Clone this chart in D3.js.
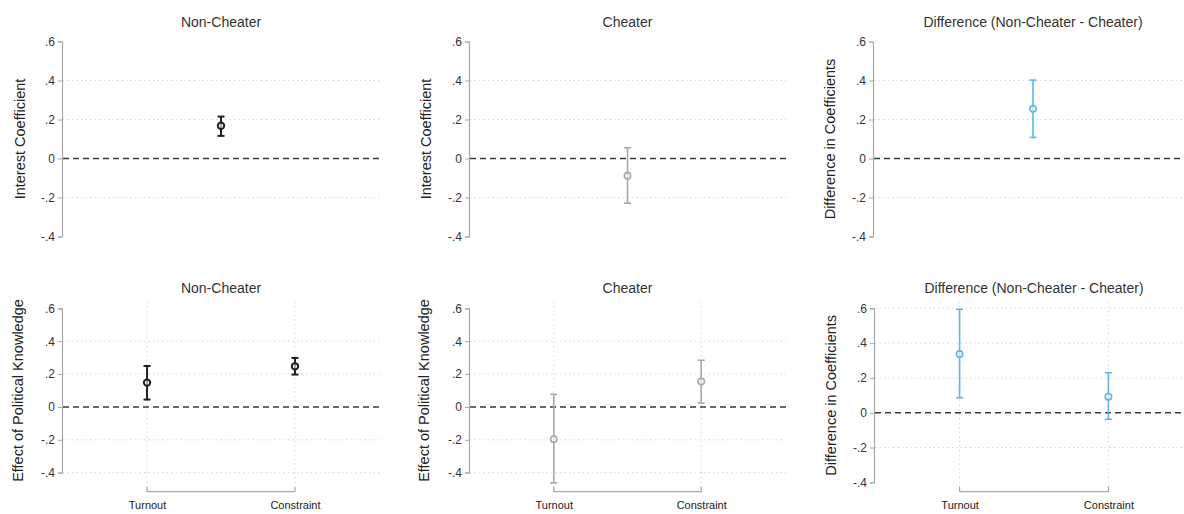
<!DOCTYPE html>
<html>
<head>
<meta charset="utf-8">
<script src="https://cdn.jsdelivr.net/npm/d3@7"></script>
<style>
  body { margin: 0; background: #fff; }
  svg { display: block; font-family: "Liberation Sans", Arial, sans-serif; }
</style>
</head>
<body>
<svg id="chart" width="1184" height="514"></svg>
<script>
// Coefficient estimates with 95% confidence intervals
const yTicks = [0.6, 0.4, 0.2, 0, -0.2, -0.4];
const outcomes = ["Turnout", "Constraint"];

// Row 1: interest coefficient
const interestNonCheater = [{ est: 0.168, lo: 0.116, hi: 0.215 }];
const interestCheater    = [{ est: -0.089, lo: -0.229, hi: 0.055 }];
const interestDiff       = [{ est: 0.255, lo: 0.108, hi: 0.402 }];

// Row 2: effect of political knowledge by outcome
const knowNonCheater = [
  { cat: "Turnout", est: 0.148, lo: 0.045, hi: 0.249 },
  { cat: "Constraint", est: 0.247, lo: 0.197, hi: 0.298 }
];
const knowCheater = [
  { cat: "Turnout", est: -0.196, lo: -0.462, hi: 0.077 },
  { cat: "Constraint", est: 0.154, lo: 0.024, hi: 0.284 }
];
const knowDiff = [
  { cat: "Turnout", est: 0.337, lo: 0.086, hi: 0.594 },
  { cat: "Constraint", est: 0.092, lo: -0.038, hi: 0.230 }
];

const colors = { non: "#1f1f1f", cheat: "#a8a8a8", diff: "#5db6e6" };

const panels = [
  { title: "Non-Cheater", ytitle: "Interest Coefficient", data: interestNonCheater, color: colors.non,
    ax: 62, right: 380, top: 41.5, bottom: 236.5, ytx: 20, grid: [0.4, 0.2, -0.2], cats: false, sw: 2 },
  { title: "Cheater", ytitle: "Interest Coefficient", data: interestCheater, color: colors.cheat,
    ax: 469, right: 786, top: 41.5, bottom: 236.5, ytx: 426, grid: [0.4, 0.2, -0.2], cats: false, sw: 1.6 },
  { title: "Difference (Non-Cheater - Cheater)", ytitle: "Difference in Coefficients", data: interestDiff, color: colors.diff,
    ax: 873, right: 1193, top: 41.5, bottom: 236.5, ytx: 830, grid: [0.4, 0.2, -0.2], cats: false, sw: 1.6 },
  { title: "Non-Cheater", ytitle: "Effect of Political Knowledge", data: knowNonCheater, color: colors.non,
    ax: 62, right: 380, top: 308.3, bottom: 472.7, ytx: 18, grid: [0.4, 0.2, -0.2, -0.4], cats: true, sw: 2 },
  { title: "Cheater", ytitle: "Effect of Political Knowledge", data: knowCheater, color: colors.cheat,
    ax: 469, right: 786, top: 308.3, bottom: 472.7, ytx: 424, grid: [0.4, 0.2, -0.2, -0.4], cats: true, sw: 1.6 },
  { title: "Difference (Non-Cheater - Cheater)", ytitle: "Difference in Coefficients", data: knowDiff, color: colors.diff,
    ax: 874, right: 1194, top: 308.3, bottom: 482.3, ytx: 831, grid: [0.6, 0.4, 0.2, -0.2], cats: true, sw: 1.6 }
];

const svg = d3.select("#chart");
const fmt = v => v === 0 ? "0" : (v < 0 ? "-" : "") + String(Math.abs(v).toFixed(1)).replace(/^0/, "");

panels.forEach(p => {
  const g = svg.append("g");
  const y = d3.scaleLinear().domain([-0.4, 0.6]).range([p.bottom, p.top]);
  const x = p.cats
    ? d3.scaleLinear().domain([0.425, 2.575]).range([p.ax, p.right])
    : d3.scaleLinear().domain([0, 2]).range([p.ax, p.right]);
  const xOf = d => p.cats ? x(outcomes.indexOf(d.cat) + 1) : x(1);

  // Title
  g.append("text")
    .attr("x", (p.ax + p.right) / 2)
    .attr("y", p.top - 15)
    .attr("text-anchor", "middle")
    .attr("font-size", 14)
    .attr("fill", "#333")
    .text(p.title);

  // Horizontal grid lines
  g.selectAll(".hg").data(p.grid).enter().append("line")
    .attr("x1", p.ax + 1).attr("x2", p.right)
    .attr("y1", d => y(d)).attr("y2", d => y(d))
    .attr("stroke", "#d6d6d6").attr("stroke-width", 1)
    .attr("stroke-dasharray", "1.5,3");

  // Vertical grid lines at each outcome
  if (p.cats) {
    g.selectAll(".vg").data([1, 2]).enter().append("line")
      .attr("x1", d => x(d)).attr("x2", d => x(d))
      .attr("y1", p.top - 7).attr("y2", 487)
      .attr("stroke", "#d6d6d6").attr("stroke-width", 1)
      .attr("stroke-dasharray", "1.5,3");
  }

  // Zero reference line
  g.append("line")
    .attr("x1", p.ax + 1).attr("x2", p.right)
    .attr("y1", y(0)).attr("y2", y(0))
    .attr("stroke", "#3a3a3a").attr("stroke-width", 1.4)
    .attr("stroke-dasharray", "6,4");

  // Y axis
  const yAxis = d3.axisLeft(y).tickValues(yTicks).tickSize(4).tickFormat(fmt).tickPadding(3);
  const ya = g.append("g").attr("transform", `translate(${p.ax},0)`).call(yAxis);
  ya.select(".domain").attr("stroke", "#a8a8a8").attr("stroke-width", 1.2);
  ya.selectAll(".tick line").attr("stroke", "#a8a8a8");
  ya.selectAll(".tick text").attr("font-size", 12).attr("fill", "#333")
    .attr("font-family", "'Liberation Sans', Arial, sans-serif");

  // Y axis title
  g.append("text")
    .attr("transform", `translate(${p.ytx},${(p.top + p.bottom) / 2}) rotate(-90)`)
    .attr("text-anchor", "middle")
    .attr("dy", "0.35em")
    .attr("font-size", 14.5)
    .attr("fill", "#222")
    .text(p.ytitle);

  // X axis with outcome labels
  if (p.cats) {
    const xAxis = d3.axisBottom(x).tickValues([1, 2]).tickSize(-5).tickSizeOuter(0)
      .tickFormat(d => outcomes[d - 1]).tickPadding(10);
    const xa = g.append("g").attr("transform", "translate(0,491.7)").call(xAxis);
    xa.select(".domain").attr("d", `M${x(1)},-5V0H${x(2)}V-5`)
      .attr("stroke", "#a8a8a8").attr("stroke-width", 1.2).attr("fill", "none");
    xa.selectAll(".tick line").remove();
    xa.selectAll(".tick text").attr("font-size", 11).attr("fill", "#222")
      .attr("font-family", "'Liberation Sans', Arial, sans-serif");
  }

  // Confidence intervals
  const cap = 3.5;
  const eb = g.selectAll(".eb").data(p.data).enter().append("g")
    .attr("stroke", p.color).attr("stroke-width", p.sw);
  eb.append("line")
    .attr("x1", xOf).attr("x2", xOf)
    .attr("y1", d => y(d.lo)).attr("y2", d => y(d.hi));
  eb.append("line")
    .attr("x1", d => xOf(d) - cap).attr("x2", d => xOf(d) + cap)
    .attr("y1", d => y(d.hi)).attr("y2", d => y(d.hi));
  eb.append("line")
    .attr("x1", d => xOf(d) - cap).attr("x2", d => xOf(d) + cap)
    .attr("y1", d => y(d.lo)).attr("y2", d => y(d.lo));

  // Point estimates
  g.selectAll(".pt").data(p.data).enter().append("circle")
    .attr("cx", xOf).attr("cy", d => y(d.est))
    .attr("r", 3.2)
    .attr("fill", "#fff").attr("fill-opacity", 0.6)
    .attr("stroke", p.color).attr("stroke-width", p.sw);
});
</script>
</body>
</html>
